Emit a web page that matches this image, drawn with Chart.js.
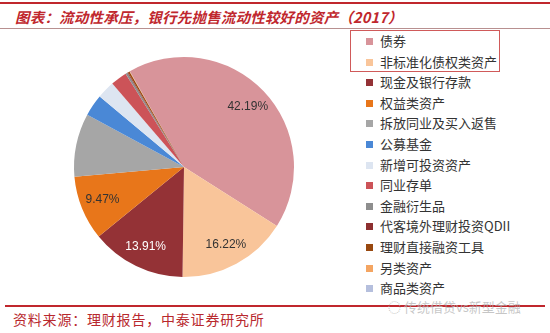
<!DOCTYPE html>
<html>
<head>
<meta charset="utf-8">
<script src="https://cdn.jsdelivr.net/npm/chart.js@4"></script>
<style>
  body { margin: 0; width: 550px; height: 333px; background: #fff; position: relative; overflow: hidden;
         font-family: "Noto Sans CJK SC", sans-serif; }
  .topline { position: absolute; left: 0; top: 2px; width: 550px; height: 2px; background: #c0272d; }
  .subline { position: absolute; left: 0; top: 28px; width: 550px; height: 1px; background: #b89090; }
  #title { position: absolute; left: 15px; top: 6px; font-size: 14.5px; font-style: italic; font-weight: bold;
           color: #c0272d; white-space: nowrap; letter-spacing: 0.2px; }
  #pieWrap { position: absolute; left: 64px; top: 47px; width: 240px; height: 240px; }
  #legend { position: absolute; left: 366px; top: 31px; }
  .item { height: 20.6px; line-height: 20.6px; font-size: 13px; color: #333; white-space: nowrap; }
  .box { display: inline-block; width: 7px; height: 7px; margin-right: 7px; vertical-align: 1px; }
  #hl { position: absolute; left: 350px; top: 30px; width: 148px; height: 40px; border: 1.5px solid #d05a5a; }
  .botline { position: absolute; left: 5px; top: 305px; width: 540px; height: 1.5px; background: #c0272d; }
  #source { position: absolute; left: 13px; top: 309px; font-size: 14px; color: #b8282d; white-space: nowrap;
            letter-spacing: 0.8px; }
  #mark { position: absolute; left: 388px; top: 297px; font-size: 13px; color: rgba(180,180,180,0.75);
          white-space: nowrap; }
</style>
</head>
<body>
<div class="topline"></div>
<div id="title">图表：流动性承压，银行先抛售流动性较好的资产（2017）</div>
<div class="subline"></div>
<div id="pieWrap"><canvas id="pie" width="240" height="240"></canvas></div>
<div id="hl"></div>
<div id="legend"></div>
<div class="botline"></div>
<div id="source">资料来源：理财报告，中泰证券研究所</div>
<div id="mark">◌ 传统借贷vs新型金融</div>
<script>
// asset classes and their share of bank wealth-management assets (%)
const categories = ["债券", "非标准化债权类资产", "现金及银行存款", "权益类资产", "拆放同业及买入返售",
  "公募基金", "新增可投资资产", "同业存单", "金融衍生品", "代客境外理财投资QDII",
  "理财直接融资工具", "另类资产", "商品类资产"];
const shares = [42.19, 16.22, 13.91, 9.47, 9.3, 3.2, 2.6, 2.4, 0.3, 0.1, 0.25, 0.04, 0.02];
const colors = ["#d8949a", "#f9c59a", "#943236", "#e8761a", "#a6a6a6", "#4a88d6", "#dde5f1",
  "#cc5358", "#8e8e8e", "#8d2f30", "#98480f", "#f4a562", "#b5bfdd"];
// only the big slices carry a value label
const labeled = [0, 1, 2, 3];
const labelColors = ["#333", "#333", "#fff", "#333"];

const legendEl = document.getElementById("legend");
categories.forEach((name, i) => {
  legendEl.insertAdjacentHTML("beforeend",
    `<div class="item"><span class="box" style="background:${colors[i]}"></span>${name}</div>`);
});

const sliceLabels = {
  id: "sliceLabels",
  afterDatasetsDraw(chart) {
    const ctx = chart.ctx;
    const arcs = chart.getDatasetMeta(0).data;
    ctx.save();
    ctx.font = "12px 'Liberation Sans', sans-serif";
    ctx.textAlign = "center";
    ctx.textBaseline = "middle";
    labeled.forEach((i, k) => {
      const a = arcs[i];
      const mid = (a.startAngle + a.endAngle) / 2;
      const r = a.outerRadius * 0.8;
      ctx.fillStyle = labelColors[k];
      ctx.fillText(shares[i].toFixed(2) + "%", a.x + Math.cos(mid) * r, a.y + Math.sin(mid) * r);
    });
    ctx.restore();
  }
};

new Chart(document.getElementById("pie"), {
  type: "pie",
  data: {
    labels: categories,
    datasets: [{ data: shares, backgroundColor: colors, borderWidth: 0 }]
  },
  options: {
    responsive: false,
    animation: false,
    rotation: -29.5,
    layout: { padding: 10 },
    plugins: { legend: { display: false }, tooltip: { enabled: false } }
  },
  plugins: [sliceLabels]
});
</script>
</body>
</html>
